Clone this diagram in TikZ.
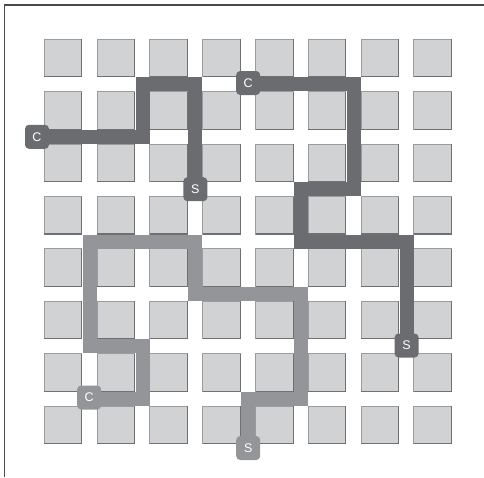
\documentclass[tikz,border=0pt]{standalone}
\usepackage{fontspec}
\setmainfont{Liberation Sans}
\definecolor{pathdark}{HTML}{6B6C6F}
\definecolor{pathlight}{HTML}{939598}
\definecolor{cellfill}{HTML}{D1D2D4}
\definecolor{celledge}{HTML}{9C9C9C}
\definecolor{celldark}{HTML}{707070}
\definecolor{framecol}{HTML}{4A4A4A}
\begin{document}
\begin{tikzpicture}[x=1pt,y=-1pt,
  cell/.style={fill=cellfill,draw=celledge,line width=1.1pt},
  celledgedark/.style={draw=celldark,line width=1.1pt},
  route/.style={line width=14pt,line join=miter},
  routedark/.style={route,draw=pathdark},
  routelight/.style={route,draw=pathlight},
  lbl/.style={rectangle,rounded corners=4pt,minimum width=24pt,minimum height=24pt,inner sep=0pt,text=white,font=\fontsize{12.5}{14}\selectfont},
  framestyle/.style={draw=framecol,line width=1.2pt}]
\useasboundingbox (0,0) rectangle (484,477);
% frame
\draw[framestyle] (484,5) -- (4.5,5) -- (4.5,477);
% cells
\foreach \i in {0,...,7}{
  \foreach \j in {0,...,7}{
    \pgfmathsetmacro{\xl}{44.3+52.8*\i}
    \pgfmathsetmacro{\yt}{39.3+52.4*\j}
    \draw[cell] (\xl,\yt) rectangle ++(37.6,37.5);
    \draw[celledgedark] (\xl+37.6,\yt) -- ++(0,37.5) -- ++(-37.6,0);
  }
}
% label anchor points
\coordinate (c1) at (37,136.8);
\coordinate (s1) at (195.4,189.2);
\coordinate (c2) at (248.2,83);
\coordinate (s2) at (406.6,345.5);
\coordinate (s3) at (248.2,448);
\coordinate (c3) at (89.2,397.5);
% routes
\draw[routedark] (c1) -- (142.6,136.8) -- (142.6,84.4) -- (195.4,84.4) -- (s1);
\draw[routedark] (248.2,84.4) -- (353.8,84.4) -- (353.8,189.2) -- (301,189.2) -- (301,241.6) -- (406.6,241.6) -- (s2);
\draw[routelight] (s3) -- (248.2,398.8) -- (301,398.8) -- (301,294) -- (195.4,294) -- (195.4,241.6) -- (89.8,241.6) -- (89.8,346.4) -- (142.6,346.4) -- (142.6,398.8) -- (89.2,398.8);
% labels
\node[lbl,fill=pathdark] (c1box) at (c1) {C};
\node[lbl,fill=pathdark] (s1box) at (s1) {S};
\node[lbl,fill=pathdark] (c2box) at (c2) {C};
\node[lbl,fill=pathdark] (s2box) at (s2) {S};
\node[lbl,fill=pathlight] (s3box) at (s3) {S};
\node[lbl,fill=pathlight] (c3box) at (c3) {C};
\end{tikzpicture}
\end{document}
